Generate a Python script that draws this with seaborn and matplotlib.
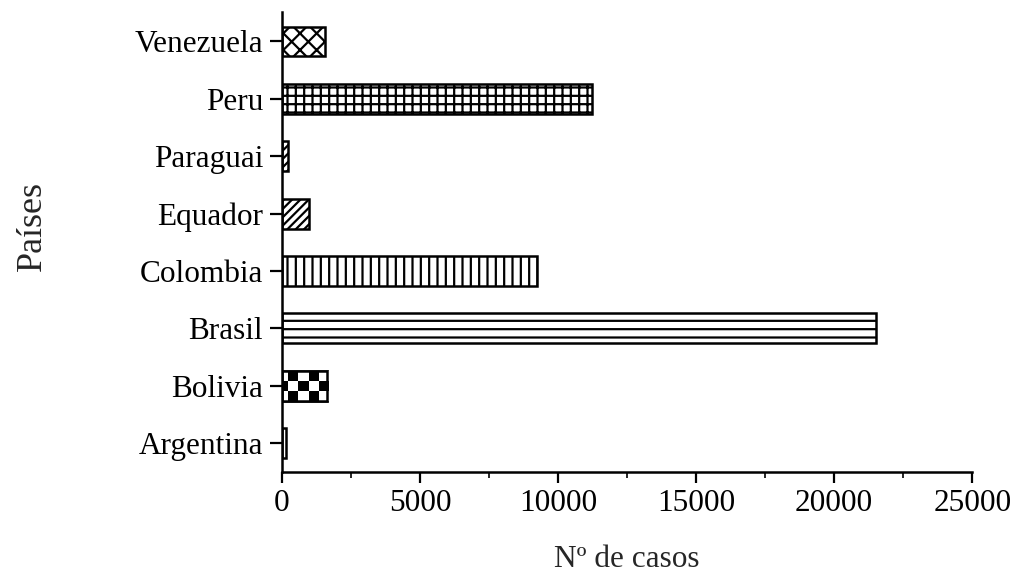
import numpy as np
import pandas as pd
import matplotlib
matplotlib.use("Agg")
import matplotlib.pyplot as plt
from matplotlib.ticker import MultipleLocator
import seaborn as sns

countries = ["Venezuela", "Peru", "Paraguai", "Equador", "Colombia", "Brasil", "Bolivia", "Argentina"]
cases = [1560, 11220, 220, 980, 9230, 21500, 1630, 150]
hatches = ["xx", "++", "////", "////", "||", "--", None, "|"]

df = pd.DataFrame({"pais": countries, "casos": cases})

sns.set_theme(style="ticks")
plt.rcParams["font.family"] = ["Liberation Serif", "DejaVu Serif"]
plt.rcParams["hatch.linewidth"] = 1.6
plt.rcParams["hatch.color"] = "black"

fig = plt.figure(figsize=(10.18, 5.79), dpi=100)
ax = fig.add_axes([0.277, 0.185, 0.678, 0.795])

sns.barplot(data=df, y="pais", x="casos", order=countries, hue="pais",
            hue_order=countries, palette=["white"] * len(countries),
            edgecolor="black", linewidth=1.8, width=0.52, legend=False,
            saturation=1, ax=ax, orient="h")

for p, h in zip(ax.patches, hatches):
    if h:
        p.set_hatch(h)

# checkerboard for Bolivia
bol = ax.patches[countries.index("Bolivia")]
x0, y0 = bol.get_x(), bol.get_y()
w, hgt = bol.get_width(), bol.get_height()
ncols, nrows = 5, 3
checker = np.indices((nrows, ncols)).sum(axis=0) % 2
sq_w = w / 4.5
start = x0 - 0.4 * sq_w
ax.imshow(checker, cmap="gray_r", extent=[start, start + ncols * sq_w, y0 + hgt, y0],
          interpolation="nearest", aspect="auto", clip_path=bol, zorder=bol.get_zorder() + 0.1)
edge = plt.Rectangle((x0, y0), w, hgt, fill=False, edgecolor="black", linewidth=1.8,
                     zorder=bol.get_zorder() + 0.2)
ax.add_patch(edge)

ax.set_xlim(0, 25000)
ax.set_ylim(7.5, -0.52)
ax.xaxis.set_major_locator(MultipleLocator(5000))
ax.xaxis.set_minor_locator(MultipleLocator(2500))
ax.tick_params(axis="both", which="major", direction="out", width=1.6,
               labelsize=22.5, colors="black")
ax.tick_params(axis="x", which="major", length=8, pad=4)
ax.tick_params(axis="x", which="minor", direction="out", length=4.5, width=1.4)
ax.tick_params(axis="y", which="major", length=8.5, pad=5)
for s in ["top", "right"]:
    ax.spines[s].set_visible(False)
for s in ["left", "bottom"]:
    ax.spines[s].set_linewidth(1.8)
    ax.spines[s].set_color("black")

ax.set_xlabel("Nº de casos", fontsize=22.5, labelpad=20)
ax.set_ylabel("Países", fontsize=26, labelpad=62)
ax.yaxis.label.set_y(0.535)

fig.savefig("out.png", dpi=100, facecolor="white")
